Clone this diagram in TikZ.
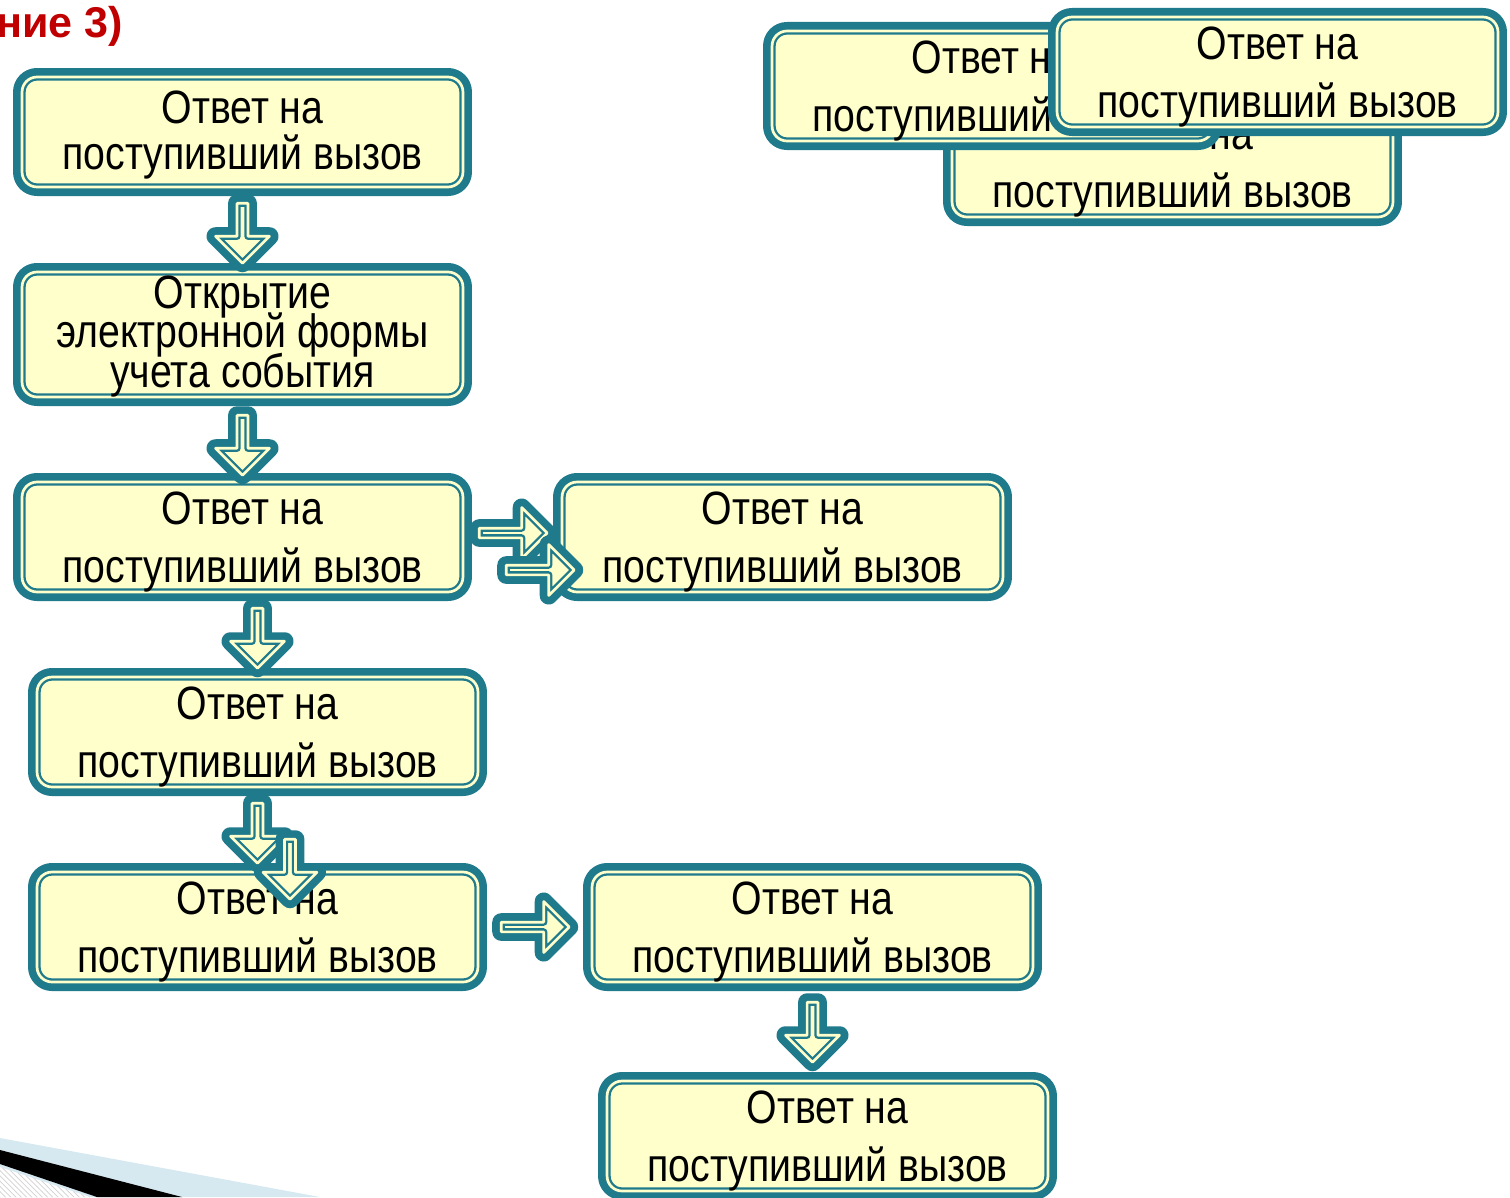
\documentclass[tikz,border=0pt]{standalone}
\usepackage{fontspec}
\setmainfont{Liberation Sans}[FakeStretch=0.84]
\newfontfamily\titlefont{Liberation Sans}
\usetikzlibrary{shapes.arrows,calc,patterns}
\definecolor{boxteal}{HTML}{1F7A8C}
\definecolor{boxcream}{HTML}{FFFFCC}
\definecolor{titlered}{HTML}{C00000}
\definecolor{decoblue}{HTML}{D6E9F0}
\setlength{\lineskiplimit}{-100pt}

\begin{document}
\begin{tikzpicture}[x=0.02cm,y=-0.02cm,
    framed/.style={fill=boxcream, draw=boxteal, line width=4.14pt, line join=round,
        preaction={draw=boxteal, line width=10.26pt},
        postaction={draw=boxcream, line width=1.53pt}},
    box/.style={framed, rounded corners=0.3cm, inner sep=0pt, align=center,
        minimum width=8.82cm, minimum height=2.2cm, text depth=-1pt,
        font=\fontsize{26.6}{32.9}\selectfont},
    blockarr/.style={framed, single arrow, single arrow tip angle=90, inner sep=0pt, anchor=tail},
    downarr/.style={blockarr, rotate=-90, minimum height=1.2cm, minimum width=1.08cm, single arrow head extend=0.29cm},
    rightarr/.style={blockarr, minimum height=1.36cm, minimum width=1.02cm, single arrow head extend=0.31cm}]
    \useasboundingbox (0,0) rectangle (1510,1197);

    \fill[decoblue] (0,1138) -- (320,1197) -- (0,1197) -- cycle;
    \fill[black] (0,1150) -- (182,1197) -- (97,1197) -- (0,1164) -- cycle;
    \fill[white] (0,1167) -- (90,1197) -- (0,1197) -- cycle;
    \fill[pattern=north west lines, pattern color=gray!35] (0,1167) -- (90,1197) -- (0,1197) -- cycle;

    \node[anchor=base east, inner sep=0pt, text=titlered, font=\titlefont\fontsize{24.5}{24.5}\selectfont\bfseries] (title) at (123,37) {ние 3)};

    \node[box, text depth=2.2pt, font=\fontsize{26.6}{26.6}\selectfont] (b1) at (242.5,132) {Ответ на\\поступивший вызов};
    \node[box, minimum height=2.5cm, text depth=3.3pt, font=\fontsize{26.6}{22.7}\selectfont] (b2) at (242.5,334.5) {Открытие\\электронной формы\\учета события};
    \node[box] (b3) at (242.5,537) {Ответ на\\поступивший вызов};
    \node[box] (b4) at (782.5,537) {Ответ на\\поступивший вызов};
    \node[box] (b5) at (257.5,732) {Ответ на\\поступивший вызов};
    \node[box] (b6) at (257.5,927) {Ответ на\\поступивший вызов};
    \node[box] (b7) at (812.5,927) {Ответ на\\поступивший вызов};
    \node[box] (b8) at (827.5,1136) {Ответ на\\поступивший вызов};

    \node[downarr] (a12) at ($(b1.south)+(0,9)$) {};
    \node[downarr] (a23) at ($(b2.south)+(0,11)$) {};
    \node[downarr] (a35) at ($(b5.north |- b3.south)+(0,9)$) {};
    \node[rightarr] (a34) at ($(b3.east)+(9,-4)$) {};
    \node[rightarr] (a34b) at ($(b3.east)+(36,33)$) {};
    \node[downarr] (a56) at ($(b5.south)+(0,9)$) {};
    \node[downarr] (a56b) at ($(b5.south)+(32.5,45)$) {};
    \node[rightarr] (a67) at ($(b6.east)+(16,0)$) {};
    \node[downarr] (a78) at ($(b7.south)+(0,13)$) {};

    \node[box] (bb) at (1172.5,162) {Ответ на\\поступивший вызов};
    \node[box] (ba) at (992.5,86) {Ответ на\\поступивший вызов};
    \node[box] (bc) at (1277.5,72) {Ответ на\\поступивший вызов};
\end{tikzpicture}
\end{document}
